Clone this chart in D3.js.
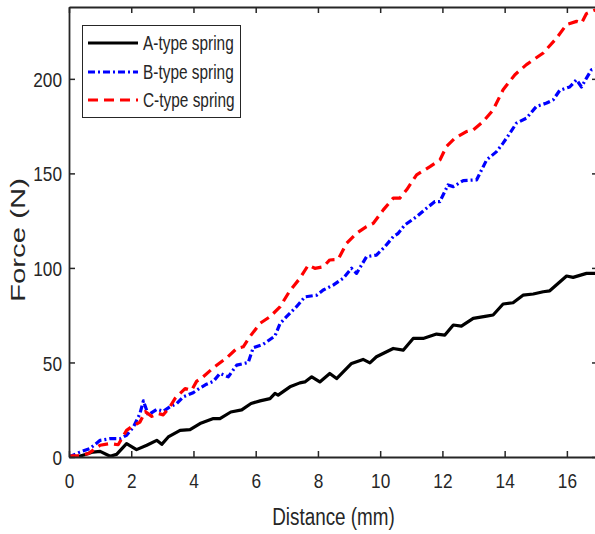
<!DOCTYPE html>
<html>
<head>
<meta charset="utf-8">
<script src="https://cdn.jsdelivr.net/npm/d3@7"></script>
<style>
  body { margin: 0; background: #fff; }
  text { font-family: "Liberation Sans Narrow", "Liberation Sans", Arial, sans-serif; fill: #262626; }
</style>
</head>
<body>
<svg id="chart"></svg>
<script>
// --- data ---
const aDist  = [0, 0.25, 0.5, 0.77, 1.0, 1.32, 1.53, 1.85, 2.17, 2.5, 2.82, 2.98, 3.19, 3.57, 3.89, 4.21, 4.64, 4.85, 5.2, 5.55, 5.85, 6.14, 6.46, 6.62, 6.72, 7.1, 7.42, 7.58, 7.8, 8.06, 8.38, 8.6, 9.08, 9.45, 9.67, 9.88, 10.42, 10.74, 11.06, 11.38, 11.81, 12.08, 12.35, 12.61, 12.99, 13.42, 13.63, 13.95, 14.27, 14.59, 14.92, 15.24, 15.45, 15.99, 16.2, 16.63, 17];
const aForce = [0, 0, 1.2, 2.6, 3.0, 0.4, 1.4, 7.1, 3.9, 6.2, 8.8, 6.7, 10.6, 14.1, 14.5, 17.7, 20.3, 20.3, 23.8, 24.9, 28.3, 29.7, 30.9, 33.6, 32.7, 37.1, 39.2, 39.7, 42.4, 39.7, 44.2, 41.5, 49.5, 51.6, 49.8, 53.0, 57.4, 56.5, 62.7, 62.7, 65.0, 64.5, 69.8, 69.2, 73.3, 74.5, 75.1, 80.9, 81.6, 85.6, 86.2, 87.4, 87.9, 95.7, 95.0, 97.1, 97.1];

const bDist  = [0, 0.35, 0.67, 1.0, 1.32, 1.64, 1.85, 2.07, 2.28, 2.39, 2.55, 2.66, 2.82, 3.03, 3.24, 3.46, 3.67, 3.99, 4.21, 4.42, 4.64, 4.85, 5.12, 5.39, 5.76, 5.92, 6.24, 6.62, 6.78, 6.99, 7.31, 7.58, 7.96, 8.17, 8.49, 8.81, 9.08, 9.24, 9.56, 9.88, 10.15, 10.42, 10.58, 10.79, 11.17, 11.49, 11.76, 11.92, 12.18, 12.35, 12.67, 13.1, 13.42, 13.74, 13.95, 14.17, 14.38, 14.7, 15.02, 15.35, 15.56, 15.77, 16.09, 16.31, 16.47, 16.63, 16.79, 17];
const bForce = [0, 2.6, 4.4, 8.8, 9.7, 9.7, 11.5, 15.9, 23, 29.7, 22.1, 23.5, 25.2, 24.2, 26.5, 28.3, 31.8, 34.0, 36.5, 38.5, 40.0, 44.2, 42.4, 48.6, 50.0, 57.8, 59.6, 64.0, 70.5, 74.2, 79.5, 84.7, 85.6, 88.3, 90.9, 94.5, 99.8, 97.1, 105.9, 106.8, 111.2, 116.5, 118.3, 122.7, 127.1, 131.6, 135.1, 135.1, 143.9, 143.0, 146.2, 146.6, 157.1, 161.5, 166, 171.3, 176.6, 179.2, 185.4, 187.2, 188.9, 193.9, 195.7, 199.5, 195.7, 200.4, 204.8, 205.5];

const cDist  = [0, 0.29, 0.62, 1.0, 1.32, 1.58, 1.85, 2.01, 2.28, 2.45, 2.66, 2.87, 3.03, 3.24, 3.41, 3.73, 3.94, 4.1, 4.31, 4.64, 5.07, 5.39, 5.6, 5.81, 6.14, 6.46, 6.78, 7.1, 7.42, 7.69, 7.9, 8.17, 8.38, 8.65, 8.92, 9.24, 9.56, 9.78, 10.1, 10.42, 10.63, 10.85, 11.17, 11.6, 11.92, 12.13, 12.4, 12.77, 12.99, 13.31, 13.63, 13.95, 14.33, 14.7, 15.24, 15.67, 15.99, 16.31, 16.47, 16.63, 17];
const cForce = [0.5, 0.8, 1.8, 6.2, 7.1, 6.5, 14.1, 16.0, 18.5, 24, 21.5, 23, 22.3, 26.5, 31, 36.2, 35.3, 40, 42.4, 47.2, 52.5, 57.4, 58.3, 63.6, 70.7, 74.2, 79.4, 88, 94.5, 101.5, 99.8, 100.6, 104.2, 104.5, 113, 118.3, 121.8, 123.6, 130.7, 136.9, 136.9, 141.3, 149.2, 153.6, 157.1, 164.2, 168.6, 172.1, 173, 177.4, 183.6, 194.2, 202.2, 207.5, 213.7, 221.6, 228.7, 230.4, 229.5, 234.5, 237];

const seriesNames = ["A-type spring", "B-type spring", "C-type spring"];
const xTicks = [0, 2, 4, 6, 8, 10, 12, 14, 16];
const yTicks = [0, 50, 100, 150, 200];

const width = 595;
const height = 534;
const margin = { left: 69, top: 7, right: -3, bottom: 77 };

const svg = d3.select("#chart")
  .attr("width", width)
  .attr("height", height);

const x = d3.scaleLinear().domain([0, 17]).range([margin.left, width - margin.right]);
const y = d3.scaleLinear().domain([0, 238]).range([height - margin.bottom, margin.top]);

const styles = [
  { color: "#000000", dash: null },
  { color: "#0000ff", dash: "7,3,2,3" },
  { color: "#ff0000", dash: "10,6" }
];

const series = [
  aDist.map((d, i) => [d, aForce[i]]),
  bDist.map((d, i) => [d, bForce[i]]),
  cDist.map((d, i) => [d, cForce[i]])
];

// the reference font is condensed; squeeze regular glyphs to match
function narrow(sel, factor) {
  sel.each(function() {
    const w = this.getComputedTextLength();
    d3.select(this)
      .attr("textLength", w * factor)
      .attr("lengthAdjust", "spacingAndGlyphs");
  });
}

svg.append("clipPath").attr("id", "clip")
  .append("rect")
  .attr("x", x(0)).attr("y", y(238))
  .attr("width", x(17) - x(0)).attr("height", y(0) - y(238));

const line = d3.line()
  .x(d => x(d[0]))
  .y(d => y(d[1]));

const lineContainer = svg.append("g").attr("clip-path", "url(#clip)");

lineContainer.selectAll("path")
  .data(series)
  .enter()
  .append("path")
  .attr("d", line)
  .attr("fill", "none")
  .attr("stroke", (d, i) => styles[i].color)
  .attr("stroke-width", 3.2)
  .attr("stroke-linejoin", "round")
  .attr("stroke-dasharray", (d, i) => styles[i].dash);

// axes, ticks inward, box on
const tickLen = 6;
const axisColor = "#262626";

const bottomAxis = svg.append("g")
  .attr("transform", `translate(0,${y(0)})`)
  .call(d3.axisBottom(x).tickValues(xTicks).tickSizeInner(-tickLen).tickSizeOuter(0).tickPadding(16));

const topAxis = svg.append("g")
  .attr("transform", `translate(0,${y(238)})`)
  .call(d3.axisTop(x).tickValues(xTicks).tickSizeInner(-tickLen).tickSizeOuter(0).tickFormat(""));

const leftAxis = svg.append("g")
  .attr("transform", `translate(${x(0)},0)`)
  .call(d3.axisLeft(y).tickValues(yTicks).tickSizeInner(-tickLen).tickSizeOuter(0).tickPadding(7));

const rightAxis = svg.append("g")
  .attr("transform", `translate(${x(17)},0)`)
  .call(d3.axisRight(y).tickValues(yTicks).tickSizeInner(-tickLen).tickSizeOuter(0).tickFormat(""));

[bottomAxis, topAxis, leftAxis, rightAxis].forEach(g => {
  g.select(".domain").attr("stroke", axisColor).attr("stroke-width", 1.8);
  g.selectAll(".tick line").attr("stroke", axisColor).attr("stroke-width", 1.5);
  g.selectAll(".tick text")
    .attr("fill", axisColor)
    .style("font-size", "21px")
    .style("font-family", '"Liberation Sans Narrow", "Liberation Sans", Arial, sans-serif');
});
leftAxis.selectAll(".tick text").attr("dy", "0.36em");
narrow(bottomAxis.selectAll(".tick text"), 0.82);
narrow(leftAxis.selectAll(".tick text"), 0.82);

// axis labels
const xLabel = svg.append("text")
  .attr("x", (x(0) + x(17)) / 2)
  .attr("y", 525)
  .attr("text-anchor", "middle")
  .style("font-size", "23px")
  .text("Distance (mm)");
narrow(xLabel, 0.82);

svg.append("text")
  .attr("transform", `translate(25,240) rotate(-90)`)
  .attr("text-anchor", "middle")
  .attr("textLength", 124)
  .attr("lengthAdjust", "spacingAndGlyphs")
  .style("font-family", '"Liberation Sans", Arial, sans-serif')
  .style("font-size", "20px")
  .text("Force (N)");

// legend
const legend = svg.append("g");
legend.append("rect")
  .attr("x", 82.5).attr("y", 25.5)
  .attr("width", 158).attr("height", 92)
  .attr("fill", "#fff")
  .attr("stroke", axisColor)
  .attr("stroke-width", 1);

const rowY = [43, 72, 100];
seriesNames.forEach((name, i) => {
  legend.append("line")
    .attr("x1", 88).attr("x2", 138)
    .attr("y1", rowY[i]).attr("y2", rowY[i])
    .attr("stroke", styles[i].color)
    .attr("stroke-width", 3.2)
    .attr("stroke-dasharray", styles[i].dash);
  const t = legend.append("text")
    .attr("x", 143)
    .attr("y", rowY[i] + 7)
    .style("font-size", "20px")
    .text(name);
  narrow(t, 0.77);
});
</script>
</body>
</html>
